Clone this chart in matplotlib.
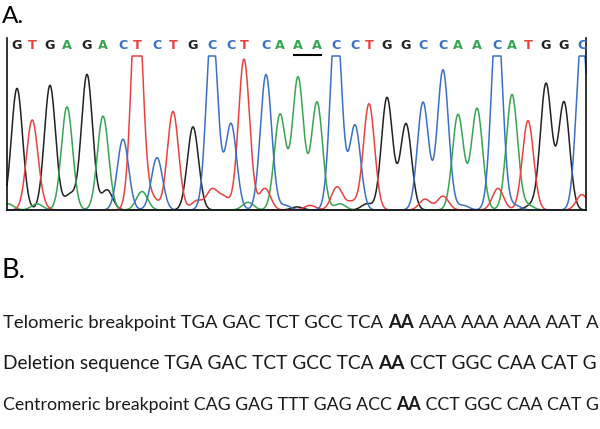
import matplotlib
matplotlib.use('Agg')
import matplotlib.pyplot as plt
import numpy as np

# base calls: letter, peak position (scan units), peak height (1 = top of window)
bases = list('GTGAGACTCTGCCTCAAACCTGGCCAACATGGC')
pos = [17, 32, 50, 67, 87, 103, 123, 137, 157, 173, 193,
       212, 231, 244, 266, 280, 298, 317, 336, 355, 369, 387,
       406, 423, 443, 458, 477, 497, 512, 528, 546, 564, 582]
height = [0.79, 0.57, 0.81, 0.67, 0.88, 0.61, 0.46, 1.49, 0.34, 0.64, 0.54,
          1.22, 0.56, 0.98, 0.88, 0.62, 0.86, 0.70, 1.29, 0.55, 0.69, 0.73,
          0.56, 0.70, 0.91, 0.62, 0.66, 1.29, 0.75, 0.58, 0.82, 0.70, 1.15]

# small secondary peaks per channel: (position, height)
minor = {
    'G': [(70, 0.10), (107, 0.13), (297, 0.02), (367, 0.04), (531, 0.03)],
    'T': [(40, 0.04), (152, 0.08), (197, 0.06), (212, 0.13), (224, 0.08),
          (265, 0.14), (310, 0.03), (337, 0.15), (352, 0.05), (425, 0.07),
          (443, 0.09), (498, 0.14), (582, 0.10)],
    'A': [(8, 0.04), (37, 0.04), (142, 0.12), (248, 0.05), (340, 0.04), (528, 0.03)],
    'C': [(285, 0.03), (463, 0.03), (515, 0.03)],
}
underlined = [16, 17]

rows = [
    ('Telomeric breakpoint TGA GAC TCT GCC TCA ', 'AA', ' AAA AAA AAA AAT A'),
    ('Deletion sequence TGA GAC TCT GCC TCA ', 'AA', ' CCT GGC CAA CAT G'),
    ('Centromeric breakpoint CAG GAG TTT GAG ACC ', 'AA', ' CCT GGC CAA CAT G'),
]

trace_col = {'G': '#222222', 'T': '#e8423f', 'A': '#37a552', 'C': '#3b70c4'}
sigma = 5.6

fig = plt.figure(figsize=(6, 4.29), dpi=100)
W, H = 600, 429

# chromatogram panel
top, base = 38, 210
ax = fig.add_axes([7 / W, 1 - base / H, (586 - 7) / W, (base - top) / H])
ymax = (base - top) / 154
ax.set_xlim(7, 586)
ax.set_ylim(0, ymax)

x = np.arange(7, 586.01, 0.5)
for ch in 'GATC':
    y = np.zeros_like(x)
    for b, p, h in zip(bases, pos, height):
        if b == ch:
            y += h * np.exp(-(x - p) ** 2 / (2 * sigma ** 2))
    for p, h in minor[ch]:
        y += h * np.exp(-(x - p) ** 2 / (2 * sigma ** 2))
    ax.plot(x, np.minimum(y, 1.0), color=trace_col[ch], lw=1.1, clip_on=False)

for b, p in zip(bases, pos):
    ax.text(p, (base - 45) / 154, b, color=trace_col[b], fontsize=9.2,
            fontweight='bold', ha='center', va='center', family='DejaVu Sans')
ax.plot([pos[underlined[0]] - 4, pos[underlined[-1]] + 4], [(base - 55) / 154] * 2,
        color='black', lw=1.5, clip_on=False)

ax.set_xticks([])
ax.set_yticks([])
ax.spines['top'].set_visible(False)
for s in ['left', 'right', 'bottom']:
    ax.spines[s].set_linewidth(1.2)
    ax.spines[s].set_color('#111111')
ax.patch.set_alpha(0)

# panel labels
fig.text(2 / W, 1 - 23 / H, 'A.', fontsize=17.5, family='Lato', va='baseline')
fig.text(2 / W, 1 - 278 / H, 'B.', fontsize=19.5, family='Lato', va='baseline')

# sequence rows, each fitted to run from the left edge to the right edge
fig.canvas.draw()
r = fig.canvas.get_renderer()
for i, (a, mid, c) in enumerate(rows):
    yb = 1 - (328 + 41 * i) / H
    fs = 13.0
    for it in range(2):
        xp = 3
        arts = []
        for txt, wt in [(a, 'normal'), (mid, 'bold'), (c, 'normal')]:
            t = fig.text(xp / W, yb, txt, fontsize=fs, family='Lato', fontweight=wt,
                         va='baseline', color='#1a1a1a')
            arts.append(t)
            xp += t.get_window_extent(r).width
        if it == 0:
            for t in arts:
                t.remove()
            fs = fs * 593 / (xp - 3)

fig.savefig('out.png', dpi=100)
